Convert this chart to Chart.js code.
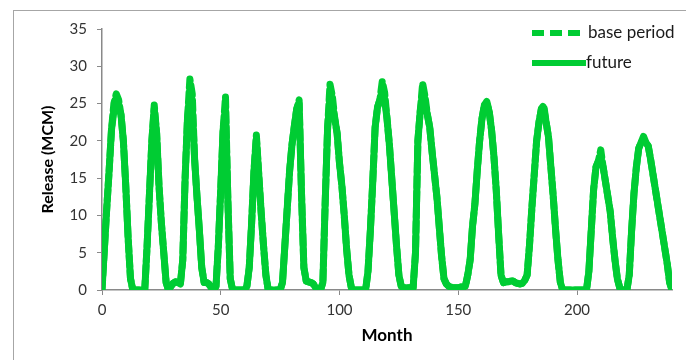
<!DOCTYPE html>
<html>
<head>
<meta charset="utf-8">
<title>Release</title>
<script src="https://cdn.jsdelivr.net/npm/chart.js@4.4.1/dist/chart.umd.min.js"></script>
<style>
  html, body { margin: 0; padding: 0; background: #fff; overflow: hidden; }
  #wrap { position: relative; width: 686px; height: 360px; }
</style>
</head>
<body>
<div id="wrap"><canvas id="releaseChart" width="686" height="360"></canvas></div>
<script>
// month index 0..240
const months = Array.from({ length: 241 }, (_, i) => i);

// release (MCM), 10 months per row
const basePeriod = [
    0, 5.5, 11, 16, 21.5, 25, 26.3, 25.5, 23.5, 20,
    14, 7, 1.5, 0, 0, 0, 0, 0, 0, 6,
    13, 20, 24.8, 21, 14, 9, 5, 1, 0, 0.5,
    0.9, 1.1, 1, 0.8, 4, 15, 23, 28.3, 26.3, 17.5,
    12.5, 8, 3, 1, 1, 0.8, 0.3, 0, 0.5, 6,
    13.5, 21.5, 25.9, 12, 1.5, 0, 0, 0, 0, 0,
    0, 0.5, 3, 9, 16, 20.8, 15.5, 10.5, 6, 2,
    0, 0, 0, 0, 0, 0, 1, 6, 11, 16,
    19.5, 22, 24.3, 25.5, 13, 3, 1.2, 1.1, 1, 0.8,
    0.3, 0, 0, 1, 12, 21.8, 27.6, 26, 23, 21,
    17, 14, 10, 5.5, 2, 0.3, 0, 0, 0, 0,
    0, 0, 2.5, 8, 14.5, 21.8, 24.5, 25.5, 28, 26.5,
    23, 19.5, 15, 10.5, 6, 2, 0.5, 0.3, 0.3, 0.3,
    0.3, 0.3, 5, 20, 24, 27.7, 26, 23.5, 21.8, 18.5,
    15.5, 12.5, 8.5, 4.5, 1.5, 0.8, 0.5, 0.4, 0.3, 0.3,
    0.3, 0.4, 0.4, 0.5, 2, 4, 8.5, 11.5, 16, 20,
    23, 24.8, 25.3, 24, 21.5, 18, 13.4, 7.5, 2, 1,
    1.1, 1.1, 1.2, 1.2, 1, 0.9, 0.8, 0.9, 1.3, 2,
    6, 11, 15.5, 20, 22.5, 24.3, 24.8, 22.5, 20.5, 16.5,
    12.5, 8, 4, 1, 0, 0, 0, 0, 0, 0,
    0, 0, 0, 0, 0, 2.5, 8, 13.5, 16.5, 17.3,
    18.8, 16.5, 14.5, 12.5, 10.5, 7, 4, 1.5, 0.3, 0,
    0, 0, 2, 8, 13, 16.5, 19, 19.8, 20.6, 19.8,
    19.3, 17.5, 15.5, 13.5, 11.5, 9.5, 7.5, 5.5, 3.5, 1,
    0
];

const future = [
    0, 5.5, 11, 16, 21.5, 24, 24.8, 24.5, 23.5, 20,
    14, 7, 1.5, 0, 0, 0, 0, 0, 0, 6,
    13, 20, 24.3, 21, 14, 9, 5, 1, 0, 0.5,
    0.9, 1.1, 1, 0.8, 4, 15, 23, 26, 24.5, 17.5,
    12.5, 8, 3, 1, 1, 0.8, 0.3, 0, 0.5, 6,
    13.5, 21.5, 24, 12, 1.5, 0, 0, 0, 0, 0,
    0, 0.5, 3, 9, 16, 20.3, 15.5, 10.5, 6, 2,
    0, 0, 0, 0, 0, 0, 1, 6, 11, 16,
    19.5, 22, 24.3, 25, 13, 3, 1.2, 1.1, 1, 0.8,
    0.3, 0, 0, 1, 12, 21.8, 25.5, 24.5, 23, 21,
    17, 14, 10, 5.5, 2, 0.3, 0, 0, 0, 0,
    0, 0, 2.5, 8, 14.5, 21.8, 24.5, 25.5, 25.8, 25.5,
    23, 19.5, 15, 10.5, 6, 2, 0.5, 0.3, 0.3, 0.3,
    0.3, 0.3, 5, 20, 24, 26, 25, 23.5, 21.8, 18.5,
    15.5, 12.5, 8.5, 4.5, 1.5, 0.8, 0.5, 0.4, 0.3, 0.3,
    0.3, 0.4, 0.4, 0.5, 2, 4, 8.5, 11.5, 16, 20,
    23, 24.8, 25, 24, 21.5, 18, 13.4, 7.5, 2, 1,
    1.1, 1.1, 1.2, 1.2, 1, 0.9, 0.8, 0.9, 1.3, 2,
    6, 11, 15.5, 20, 22.5, 24.3, 24.3, 22.5, 20.5, 16.5,
    12.5, 8, 4, 1, 0, 0, 0, 0, 0, 0,
    0, 0, 0, 0, 0, 2.5, 8, 13.5, 16.5, 17.3,
    17.3, 16.5, 14.5, 12.5, 10.5, 7, 4, 1.5, 0.3, 0,
    0, 0, 2, 8, 13, 16.5, 19, 19.8, 19.8, 19.8,
    19.3, 17.5, 15.5, 13.5, 11.5, 9.5, 7.5, 5.5, 3.5, 1,
    0
];

const xTicks = [0, 50, 100, 150, 200];
const yTicks = [0, 5, 10, 15, 20, 25, 30, 35];
const seriesNames = ['base period', 'future'];

const green = 'rgb(0, 204, 51)';
const axisGray = '#898989';
const fontFamily = 'Lato, "Open Sans", sans-serif';

function toPoints(values) {
    return months.map((m, i) => ({ x: m, y: values[i] }));
}

// outer frame, axis titles and the legend in the top right of the plot
const decorations = {
    id: 'decorations',
    beforeDraw(chart) {
        const ctx = chart.ctx;
        ctx.save();
        ctx.strokeStyle = '#a6a6a6';
        ctx.lineWidth = 1;
        ctx.strokeRect(13.5, 10.5, 720, 400);
        ctx.restore();
    },
    afterDraw(chart) {
        const { ctx, chartArea } = chart;
        ctx.save();
        ctx.fillStyle = '#000';
        ctx.font = 'bold 17px ' + fontFamily;
        ctx.textAlign = 'center';
        ctx.textBaseline = 'middle';
        ctx.fillText('Month', (chartArea.left + chartArea.right) / 2, 336);

        ctx.font = 'bold 16px ' + fontFamily;
        ctx.translate(48, (chartArea.top + chartArea.bottom) / 2);
        ctx.rotate(-Math.PI / 2);
        ctx.fillText('Release (MCM)', 0, 0);
        ctx.restore();

        ctx.save();
        ctx.font = '17px ' + fontFamily;
        ctx.textAlign = 'left';
        ctx.textBaseline = 'middle';
        chart.data.datasets.forEach((ds, i) => {
            const y = chartArea.top + 4 + i * 30;
            const x0 = chartArea.right - 140;
            const dashed = ds.borderDash.length > 0;
            const x1 = chartArea.right - (dashed ? 90 : 86);
            ctx.strokeStyle = ds.borderColor;
            ctx.lineWidth = 6;
            ctx.setLineDash(dashed ? [12, 6] : []);
            ctx.lineCap = 'butt';
            ctx.beginPath();
            ctx.moveTo(x0, y);
            ctx.lineTo(x1, y);
            ctx.stroke();
            ctx.setLineDash([]);
            ctx.fillStyle = '#1a1a1a';
            ctx.fillText(ds.label, chartArea.right - (dashed ? 84 : 86), y);
        });
        ctx.restore();
    }
};

new Chart(document.getElementById('releaseChart'), {
    type: 'line',
    data: {
        datasets: [{
            label: seriesNames[0],
            data: toPoints(basePeriod),
            borderColor: green,
            borderWidth: 7,
            borderDash: [10, 5],
            borderCapStyle: 'round',
            borderJoinStyle: 'round',
            pointRadius: 0,
            tension: 0,
            order: 2
        }, {
            label: seriesNames[1],
            data: toPoints(future),
            borderColor: green,
            borderWidth: 7,
            borderDash: [],
            borderCapStyle: 'round',
            borderJoinStyle: 'round',
            pointRadius: 0,
            tension: 0,
            order: 1
        }]
    },
    options: {
        responsive: false,
        animation: false,
        devicePixelRatio: 1,
        layout: { padding: { top: 29, right: 14, bottom: 0, left: 0 } },
        plugins: {
            legend: { display: false },
            tooltip: { enabled: false }
        },
        scales: {
            x: {
                type: 'linear',
                min: 0,
                max: 240,
                afterBuildTicks: scale => { scale.ticks = xTicks.map(v => ({ value: v })); },
                afterFit: scale => { scale.height = 70; },
                grid: { drawOnChartArea: false, tickLength: 5, color: axisGray },
                border: { color: axisGray, width: 1.5 },
                ticks: { font: { family: fontFamily, size: 15 }, color: '#333', padding: 6, maxRotation: 0 }
            },
            y: {
                min: 0,
                max: 35,
                afterBuildTicks: scale => { scale.ticks = yTicks.map(v => ({ value: v })); },
                afterFit: scale => { scale.width = 102; },
                grid: { drawOnChartArea: false, tickLength: 5, color: axisGray },
                border: { color: axisGray, width: 1.5 },
                ticks: { font: { family: fontFamily, size: 15 }, color: '#333', padding: 10 }
            }
        }
    },
    plugins: [decorations]
});
</script>
</body>
</html>
